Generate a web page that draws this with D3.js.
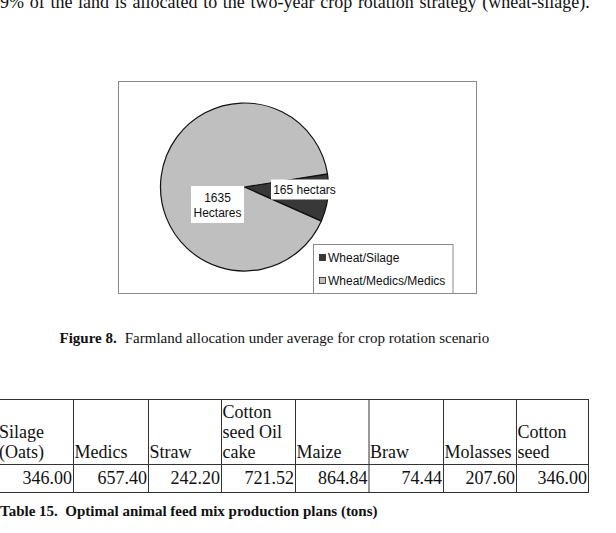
<!DOCTYPE html>
<html><head><meta charset="utf-8">
<script src="https://cdn.jsdelivr.net/npm/d3@7/dist/d3.min.js"></script>
<style>html,body{margin:0;padding:0;background:#fff;}svg{display:block;}</style>
</head><body>
<svg id="c" width="616" height="533"></svg>
<script>
// ---- data ----
const introText = "9% of the land is allocated to the two-year crop rotation strategy (wheat-silage).";
const pieCategories = ["Wheat/Silage", "Wheat/Medics/Medics"];
const pieValues = [165, 1635];
const pieLabels = [["165 hectars"], ["1635", "Hectares"]];
const figureCaptionBold = "Figure 8.";
const figureCaptionText = "Farmland allocation under average for crop rotation scenario";
const tableHeaders = [["Silage", "(Oats)"], ["Medics"], ["Straw"], ["Cotton", "seed Oil", "cake"], ["Maize"], ["Braw"], ["Molasses"], ["Cotton", "seed"]];
const tableValues = [346.00, 657.40, 242.20, 721.52, 864.84, 74.44, 207.60, 346.00];
const tableCaption = "Table 15.  Optimal animal feed mix production plans (tons)";

const svg = d3.select("#c");
const serif = "'Liberation Serif','Times New Roman',serif";
const sans = "'Liberation Sans',Arial,sans-serif";

// intro line (cut off at top, justified paragraph line)
svg.append("text").attr("x", 0).attr("y", 8).attr("font-family", serif).attr("font-size", 18)
  .attr("word-spacing", 1.2).attr("fill", "#111").text(introText);

// chart frame
const frame = {x: 118.5, y: 81.5, w: 358, h: 212};
svg.append("rect").attr("x", frame.x).attr("y", frame.y).attr("width", frame.w).attr("height", frame.h)
  .attr("fill", "#fff").attr("stroke", "#8a8a8a").attr("stroke-width", 1);

// pie
const cx = 244.5, cy = 187, R = 84;
const colors = d3.scaleOrdinal().domain(pieCategories).range(["#383838", "#bfbfbf"]);
const start = 81 * Math.PI / 180;
const pie = d3.pie().sort(null).startAngle(start).endAngle(start + 2 * Math.PI);
const arcs = pie(pieValues);
const arc = d3.arc().innerRadius(0).outerRadius(R);
const g = svg.append("g").attr("transform", `translate(${cx},${cy})`);
g.selectAll("path").data(arcs).join("path")
  .attr("d", arc).attr("fill", (d, i) => colors(pieCategories[i]))
  .attr("stroke", "#111").attr("stroke-width", 1.2).attr("stroke-linejoin", "round");

// data labels
const labelPos = [{dx: 60, dy: 2.5, w: 67, h: 20}, {dx: -27, dy: 17.5, w: 53, h: 37}];
labelPos.forEach((p, i) => {
  const lg = g.append("g").attr("transform", `translate(${p.dx},${p.dy})`);
  lg.append("rect").attr("x", -p.w / 2).attr("y", -p.h / 2).attr("width", p.w).attr("height", p.h).attr("fill", "#fff");
  const lines = pieLabels[i];
  lines.forEach((t, j) => {
    lg.append("text").attr("x", 0).attr("y", (j - (lines.length - 1) / 2) * 15 + 4.5)
      .attr("text-anchor", "middle").attr("font-family", sans).attr("font-size", 12).attr("fill", "#111").text(t);
  });
});

// legend
const leg = {x: 313.5, y: 244.5, w: 139.5, h: 49};
svg.append("rect").attr("x", leg.x).attr("y", leg.y).attr("width", leg.w).attr("height", leg.h)
  .attr("fill", "#fff").attr("stroke", "#8a8a8a");
pieCategories.forEach((c, i) => {
  const yy = 258 + i * 23;
  svg.append("rect").attr("x", 319.5).attr("y", yy - 3.5).attr("width", 6).attr("height", 6)
    .attr("fill", colors(c)).attr("stroke", "#222").attr("stroke-width", 0.8);
  svg.append("text").attr("x", 328).attr("y", yy + 4).attr("font-family", sans).attr("font-size", 12)
    .attr("fill", "#111").text(c);
});

// figure caption
const cap = svg.append("text").attr("x", 59.5).attr("y", 343).attr("font-family", serif).attr("font-size", 15).attr("fill", "#111");
cap.append("tspan").attr("font-weight", "bold").text(figureCaptionBold);
cap.append("tspan").attr("dx", 8).text(figureCaptionText);

// table
const colEdges = [-6, 73, 148, 221, 295, 368.5, 443, 516, 588];
const rowTop = 399, rowMid = 464, rowBot = 492;
const tg = svg.append("g").attr("stroke", "#333").attr("stroke-width", 1);
[rowTop, rowMid, rowBot].forEach(y => tg.append("line").attr("x1", -1).attr("x2", 588.5).attr("y1", y + 0.5).attr("y2", y + 0.5));
colEdges.slice(1).forEach(x => tg.append("line").attr("x1", x + 0.5).attr("x2", x + 0.5).attr("y1", rowTop).attr("y2", rowBot + 1));

tableHeaders.forEach((lines, i) => {
  const x0 = i === 0 ? -1 : colEdges[i] + 1.5;
  lines.forEach((t, j) => {
    svg.append("text").attr("x", x0).attr("y", 458 - (lines.length - 1 - j) * 20)
      .attr("font-family", serif).attr("font-size", 18).attr("fill", "#111").text(t);
  });
});
tableValues.forEach((v, i) => {
  svg.append("text").attr("x", colEdges[i + 1] - 1).attr("y", 484).attr("text-anchor", "end")
    .attr("font-family", serif).attr("font-size", 18).attr("fill", "#111").text(d3.format(".2f")(v));
});

svg.append("text").attr("x", 0).attr("y", 516).attr("font-family", serif).attr("font-size", 15)
  .attr("font-weight", "bold").attr("fill", "#111").attr("xml:space", "preserve").text(tableCaption);
</script>
</body></html>
